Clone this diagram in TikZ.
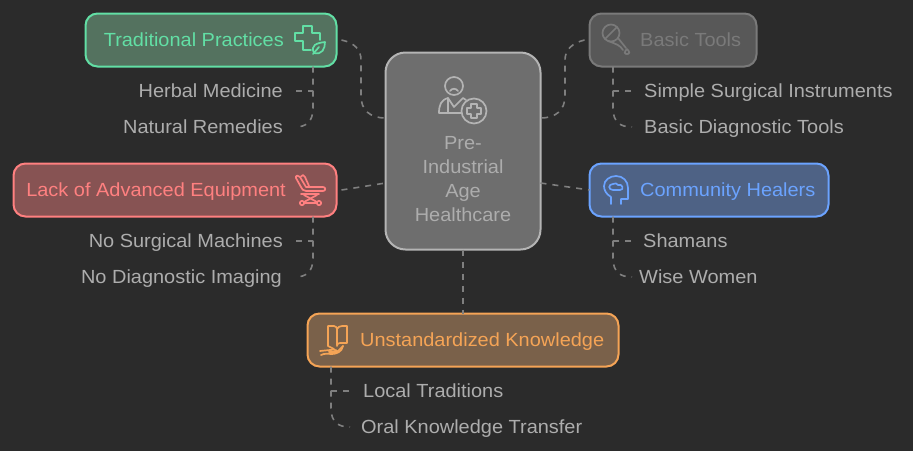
\documentclass[tikz,border=0pt]{standalone}
\usepackage{fontspec}
\setmainfont[FakeStretch=1.05]{Liberation Sans}
\definecolor{bg}{HTML}{2B2B2B}
\definecolor{lbl}{HTML}{ADADAD}
\definecolor{conn}{HTML}{7F7F7F}
\definecolor{gs}{HTML}{62DFA5}\definecolor{gf}{HTML}{54725F}
\definecolor{ts}{HTML}{7A7A7A}\definecolor{tf}{HTML}{585858}
\definecolor{rs}{HTML}{FF8080}\definecolor{rf}{HTML}{875353}
\definecolor{bs}{HTML}{6BA3FF}\definecolor{bf}{HTML}{4E6285}
\definecolor{os}{HTML}{F5A456}\definecolor{of}{HTML}{7A614A}
\definecolor{cs}{HTML}{B4B4B4}\definecolor{cf}{HTML}{6E6E6E}
\tikzset{
  x=1pt,y=-1pt,
  box/.style={draw=#1s,fill=#1f,line width=2pt,rounded corners=12pt,inner sep=0pt,outer sep=0pt},
  boxtext/.style={text=#1,inner sep=0pt,text height=16pt,text depth=3pt,font=\fontsize{19}{22}\selectfont},
  leaf/.style={text=lbl,inner sep=0pt,text height=16pt,text depth=3pt,font=\fontsize{19}{22}\selectfont},
  link/.style={draw=conn,line width=1.6pt,dash pattern=on 6pt off 6pt},
  icon/.style={draw=#1,line width=1.7pt,line join=round,line cap=round,fill=none}
}
\begin{document}
\begin{tikzpicture}
\useasboundingbox[fill=bg] (0,0) rectangle (913,451);
% boxes
\node[box=c,minimum width=155pt,minimum height=197pt,rounded corners=20pt] (center) at (463,151) {};
\node[box=g,minimum width=251pt,minimum height=53pt] (trad) at (211,40) {};
\node[box=t,minimum width=167pt,minimum height=53pt] (tools) at (673,40) {};
\node[box=r,minimum width=323pt,minimum height=53pt] (lack) at (175,190) {};
\node[box=b,minimum width=239pt,minimum height=53pt] (healers) at (709,190) {};
\node[box=o,minimum width=311pt,minimum height=53pt] (know) at (463,340) {};
% box texts
\node[boxtext=gs,anchor=east] (tradT) at (284,40) {Traditional Practices};
\node[boxtext=ts,anchor=west] (toolsT) at (640,40) {Basic Tools};
\node[boxtext=rs,anchor=east] (lackT) at (286,190) {Lack of Advanced Equipment};
\node[boxtext=bs,anchor=west] (healT) at (640,190) {Community Healers};
\node[boxtext=os,anchor=west] (knowT) at (360,340) {Unstandardized Knowledge};
\node[text=lbl,align=center,inner sep=0pt,font=\fontsize{19}{24}\selectfont] (centerT) at (463,179) {Pre-\\Industrial\\Age\\Healthcare};
% leaves
\node[leaf,anchor=east] (l1) at (283,91) {Herbal Medicine};
\node[leaf,anchor=east] (l2) at (283,127) {Natural Remedies};
\node[leaf,anchor=east] (l3) at (283,241) {No Surgical Machines};
\node[leaf,anchor=east] (l4) at (282,277) {No Diagnostic Imaging};
\node[leaf,anchor=west] (r1) at (644,91) {Simple Surgical Instruments};
\node[leaf,anchor=west] (r2) at (644,127) {Basic Diagnostic Tools};
\node[leaf,anchor=west] (r3) at (643,241) {Shamans};
\node[leaf,anchor=west] (r4) at (639,277) {Wise Women};
\node[leaf,anchor=west] (b1) at (363,391) {Local Traditions};
\node[leaf,anchor=west] (b2) at (361,427) {Oral Knowledge Transfer};
% main links
\draw[link] ([xshift=5pt]trad.east) .. controls (355,43) and (361,50) .. (361,60) -- (361,96) .. controls (361,110) and (370,118) .. ([yshift=33pt]center.west);
\draw[link] ([xshift=-5pt]tools.west) .. controls (572,43) and (565,50) .. (565,60) -- (565,96) .. controls (565,110) and (556,118) .. ([yshift=33pt]center.east);
\draw[link] ([xshift=5pt]lack.east) -- ([yshift=-32pt]center.west);
\draw[link] ([yshift=-32pt]center.east) -- (healers.west);
\draw[link] (center.south) -- (know.north);
% tree links
\draw[link] (trad.south -| 313,0) -- (313,108) .. controls (313,122) and (306,127) .. (l2.east -| 295,0);
\draw[link] (l1.east -| 296,0) -- (313,91);
\draw[link] (lack.south -| 313,0) -- (313,258) .. controls (313,272) and (306,277) .. (l4.east -| 295,0);
\draw[link] (l3.east -| 296,0) -- (313,241);
\draw[link] (tools.south -| 613,0) -- (613,108) .. controls (613,122) and (620,127) .. (r2.west -| 632,0);
\draw[link] (r1.west -| 631,0) -- (613,91);
\draw[link] (healers.south -| 613,0) -- (613,258) .. controls (613,272) and (620,277) .. (r4.west -| 632,0);
\draw[link] (r3.west -| 631,0) -- (613,241);
\draw[link] (know.south -| 331,0) -- (331,408) .. controls (331,422) and (338,427) .. (b2.west -| 350,0);
\draw[link] (b1.west -| 349,0) -- (331,391);
% icon: traditional
\draw[icon=gs] (311,50) -- (303,50) -- (303,41) -- (295,41) -- (295,33) -- (303,33) -- (303,26) -- (312,26) -- (312,33) -- (320,33) -- (320,40);
\draw[icon=gs] (313,54) -- (319,47);
\draw[icon=gs] (314,53) .. controls (310,45) and (317,43) .. (325,42) .. controls (325,49) and (322,55) .. (314,53);
% icon: tools
\draw[icon=ts] (611,33) circle (8.5);
\draw[icon=ts] (605,39) -- (617,27);
\draw[icon=ts] (618,38) -- (626,48);
\draw[icon=ts] (608,41) .. controls (616,44) and (620,45) .. (623,50);
\draw[icon=ts] (627,49) .. controls (630,52) and (630,54) .. (627,54) .. controls (624,54) and (624,52) .. (627,49);
% icon: center
\draw[icon=cs] (454,86) circle (9);
\draw[icon=cs] (450,91) .. controls (452,88) and (456,88) .. (458,91);
\draw[icon=cs] (461,113) -- (439,113) .. controls (439,105) and (441,100) .. (448,98) -- (454,107) -- (463,98) -- (466,100);
\draw[icon=cs] (448,98) -- (448,113);
\draw[icon=cs] (474,111) circle (12.5);
\draw[icon=cs] (471,104) -- (477,104) -- (477,108) -- (481,108) -- (481,114) -- (477,114) -- (477,118) -- (471,118) -- (471,114) -- (467,114) -- (467,108) -- (471,108) -- cycle;
% icon: chair
\draw[icon=rs] (296,178) .. controls (295,175) and (299,175) .. (300,177) -- (306,187) -- (323,187) .. controls (326,187) and (326,191) .. (323,191) -- (306,191) .. controls (303,191) and (302,189) .. (301,187) -- cycle;
\draw[icon=rs] (301,176.500) .. controls (302,174) and (304,175) .. (305,177) -- (309,186);
\draw[icon=rs] (301,194) -- (319,194);
\draw[icon=rs] (304,195) -- (317,202);
\draw[icon=rs] (317,195) -- (304,202);
\draw[icon=rs] (302,203) circle (2.2);
\draw[icon=rs] (319,203) circle (2.2);
\draw[icon=rs] (304.500,203) -- (316.500,203);
% icon: healers
\draw[icon=bs] (611,204) -- (611,197) .. controls (606,194) and (604,190) .. (604,186) .. controls (604,180) and (610,176) .. (616,176) .. controls (623,176) and (628,181) .. (628,188) -- (628,199) -- (621,199) -- (621,204);
\draw[icon=bs] (613,190) .. controls (608,190) and (608,184) .. (613,184) .. controls (615,183) and (617,183) .. (618,185) .. controls (622,183) and (625,190) .. (620,190) -- cycle;
% icon: knowledge
\draw[icon=os] (334,349) -- (328,346) -- (328,326) -- (334,326) .. controls (336,326) and (337,328) .. (337,329) .. controls (338,327) and (340,326) .. (342,326) -- (347,326) -- (347,343) -- (340,343) .. controls (338,343) and (337,344) .. (337,346);
\draw[icon=os] (337,329) -- (337,345);
\draw[icon=os] (320,351) -- (330,350) .. controls (336,349) and (338,351) .. (337,352) -- (329,352);
\draw[icon=os] (337,352) -- (343,346);
\draw[icon=os] (321,355) .. controls (325,353) and (328,354) .. (332,354) .. controls (336,354) and (342,352) .. (343,346);
\end{tikzpicture}
\end{document}
